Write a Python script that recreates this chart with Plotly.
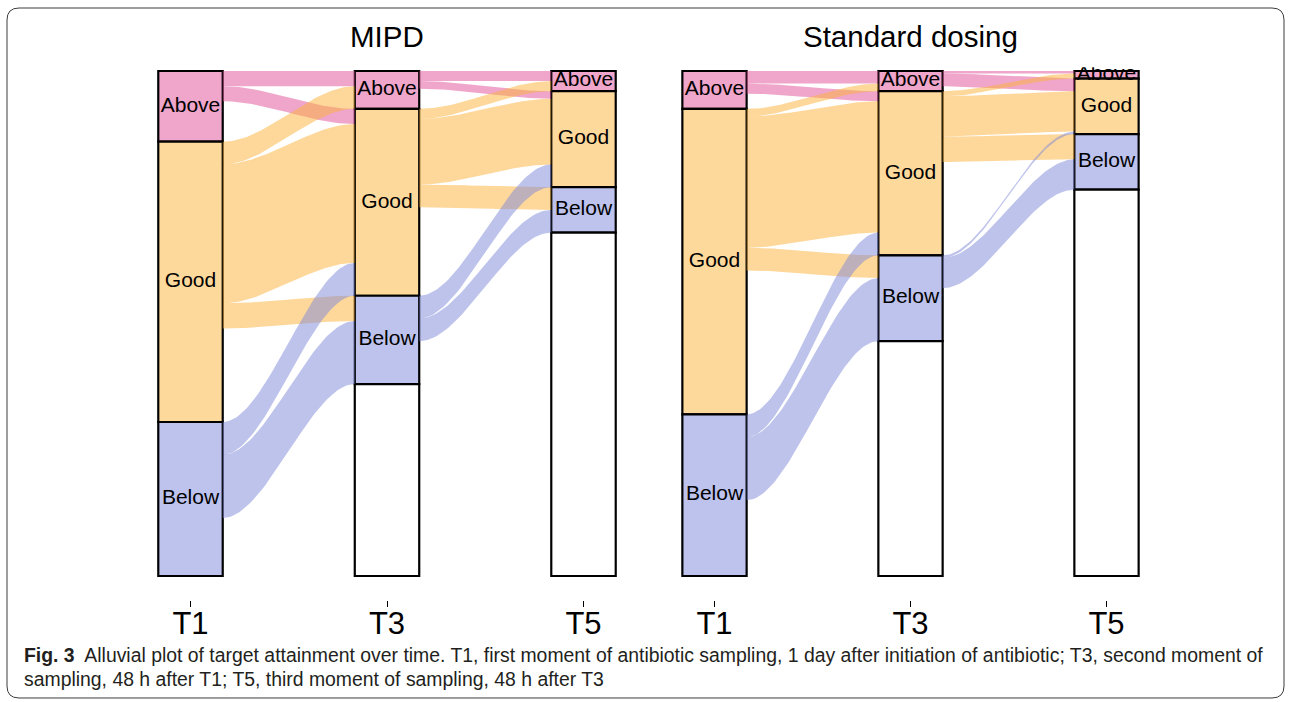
import numpy as np
import plotly.graph_objects as go

# ---------------- data ----------------
categories = ["Above", "Good", "Below", "NA"]
time_labels = ["T1", "T3", "T5"]
panel_titles = ["MIPD", "Standard dosing"]

# patients moving between strata; rows = from, cols = to (Above, Good, Below, NA)
mipd_t1_t3 = [[6, 6, 0, 16], [9, 55, 10, 37], [0, 13, 25, 23], [0, 0, 0, 0]]
mipd_t3_t5 = [[4, 3, 0, 8], [4, 26, 9, 35], [0, 9, 9, 17], [0, 0, 0, 76]]
sd_t1_t3 = [[5, 4, 0, 6], [3, 52, 9, 57], [0, 9, 25, 30], [0, 0, 0, 0]]
sd_t3_t5 = [[1, 5, 0, 2], [2, 16, 10, 37], [0, 1, 12, 21], [0, 0, 0, 93]]

caption_line1 = ("<b>Fig. 3</b>  Alluvial plot of target attainment over time. T1, first moment of "
                 "antibiotic sampling, 1 day after initiation of antibiotic; T3, second moment of")
caption_line2 = "sampling, 48 h after T1; T5, third moment of sampling, 48 h after T3"

# ---------------- style ----------------
stratum_colors = ["#EFA6CA", "#FED99C", "#BDC3EC", "#FFFFFF"]
flow_colors = ["rgba(223,77,149,0.5)", "rgba(253,178,56,0.5)", "rgba(125,135,217,0.5)", None]
BW = 0.328
W, H = 1290, 702
FONT = "Liberation Sans"

panels = [
    dict(flows=[mipd_t1_t3, mipd_t3_t5], xa="x", ya="y", title=panel_titles[0]),
    dict(flows=[sd_t1_t3, sd_t3_t5], xa="x2", ya="y2", title=panel_titles[1]),
]

fig = go.Figure()


def smooth(t):
    return t * t * (3 - 2 * t)


for p in panels:
    m1 = np.array(p["flows"][0], dtype=float)
    m2 = np.array(p["flows"][1], dtype=float)
    totals = [m1.sum(axis=1), m1.sum(axis=0), m2.sum(axis=0)]
    # bottoms: NA at the bottom, then Below, Good, Above on top
    bottoms = []
    for tot in totals:
        b = np.zeros(4)
        acc = 0.0
        for c in [3, 2, 1, 0]:
            b[c] = acc
            acc += tot[c]
        bottoms.append(b)

    # flows
    for ti, m in enumerate([m1, m2]):
        xa = ti + 1 + BW / 2
        xb = ti + 2 - BW / 2
        src_off = np.zeros(4)
        dst_off = np.zeros(4)
        src_pos = {}
        for s in range(4):
            for d in range(4):
                v = m[s, d]
                top = bottoms[ti][s] + totals[ti][s] - src_off[s]
                src_pos[(s, d)] = (top, top - v)
                src_off[s] += v
        dst_pos = {}
        for d in range(4):
            for s in range(4):
                v = m[s, d]
                top = bottoms[ti + 1][d] + totals[ti + 1][d] - dst_off[d]
                dst_pos[(s, d)] = (top, top - v)
                dst_off[d] += v
        t = np.linspace(0, 1, 60)
        xs = xa + (xb - xa) * t
        for s in range(3):
            for d in range(3):
                v = m[s, d]
                if v <= 0:
                    continue
                (ya_t, ya_b) = src_pos[(s, d)]
                (yb_t, yb_b) = dst_pos[(s, d)]
                top_curve = ya_t + (yb_t - ya_t) * smooth(t)
                bot_curve = ya_b + (yb_b - ya_b) * smooth(t)
                fig.add_trace(go.Scatter(
                    x=np.concatenate([xs, xs[::-1]]),
                    y=np.concatenate([top_curve, bot_curve[::-1]]),
                    fill="toself", fillcolor=flow_colors[s], mode="lines",
                    line=dict(width=0), hoverinfo="skip", showlegend=False,
                    xaxis=p["xa"], yaxis=p["ya"]))

    # strata
    for c in range(4):
        xs, ys, bs = [], [], []
        for ti in range(3):
            if totals[ti][c] > 0:
                xs.append(ti + 1)
                ys.append(totals[ti][c])
                bs.append(bottoms[ti][c])
        fig.add_trace(go.Bar(
            x=xs, y=ys, base=bs, width=BW,
            marker=dict(color=stratum_colors[c], line=dict(color="black", width=2.2)),
            hoverinfo="skip", showlegend=False, xaxis=p["xa"], yaxis=p["ya"]))

    # labels
    lx, ly, lt = [], [], []
    for ti in range(3):
        for c in range(3):
            if totals[ti][c] > 0:
                lx.append(ti + 1)
                ly.append(bottoms[ti][c] + totals[ti][c] / 2)
                lt.append(categories[c])
    fig.add_trace(go.Scatter(
        x=lx, y=ly, text=lt, mode="text",
        textfont=dict(family=FONT, size=21, color="black"),
        hoverinfo="skip", showlegend=False, xaxis=p["xa"], yaxis=p["ya"]))

    fig.add_annotation(text=p["title"], x=2, xref=p["xa"], y=1 - 37 / H, yref="paper",
                       showarrow=False, yanchor="middle", xanchor="center",
                       font=dict(family=FONT, size=29.5, color="black"))

y_top_px = 71 - 1.5 * 2.525
y_dom = [1 - 600 / H, 1 - y_top_px / H]
xcommon = dict(range=[0.75, 3.25], tickvals=[1, 2, 3], ticktext=time_labels,
               ticks="outside", ticklen=6, tickwidth=1, tickcolor="black",
               ticklabelstandoff=-10,
               showline=False, showgrid=False, zeroline=False, fixedrange=True,
               tickfont=dict(family=FONT, size=31, color="black"))
ycommon = dict(range=[-9.5, 201.5], visible=False, fixedrange=True, domain=y_dom)

fig.update_layout(
    width=W, height=H, autosize=False,
    margin=dict(l=0, r=0, t=0, b=0, pad=0),
    paper_bgcolor="white", plot_bgcolor="rgba(0,0,0,0)",
    barmode="overlay",
    xaxis=dict(domain=[141.375 / W, 632.625 / W], anchor="y", **xcommon),
    xaxis2=dict(domain=[665.5 / W, 1155.5 / W], anchor="y2", **xcommon),
    yaxis=dict(anchor="x", **ycommon),
    yaxis2=dict(anchor="x2", **ycommon),
)

# caption
fig.add_annotation(text=caption_line1, xref="paper", yref="paper", x=22 / W, y=1 - 655 / H,
                   xanchor="left", yanchor="middle", showarrow=False, align="left",
                   font=dict(family=FONT, size=19.4, color="#231F20"))
fig.add_annotation(text=caption_line2, xref="paper", yref="paper", x=22 / W, y=1 - 679 / H,
                   xanchor="left", yanchor="middle", showarrow=False, align="left",
                   font=dict(family=FONT, size=19.4, color="#231F20"))

# rounded frame
x0, y0, x1, y1, r = 7, 8, 1284, 698, 12


def P(px, py):
    return f"{px / W:.5f},{1 - py / H:.5f}"


path = (f"M {P(x0 + r, y0)} L {P(x1 - r, y0)} Q {P(x1, y0)} {P(x1, y0 + r)} "
        f"L {P(x1, y1 - r)} Q {P(x1, y1)} {P(x1 - r, y1)} L {P(x0 + r, y1)} "
        f"Q {P(x0, y1)} {P(x0, y1 - r)} L {P(x0, y0 + r)} Q {P(x0, y0)} {P(x0 + r, y0)} Z")
fig.add_shape(type="path", path=path, xref="paper", yref="paper",
              line=dict(color="#3C3C3C", width=1), layer="above")

fig.write_html("out.html", config={"displayModeBar": False},
               post_script="document.body.style.margin='0px';document.body.style.overflow='hidden';")
